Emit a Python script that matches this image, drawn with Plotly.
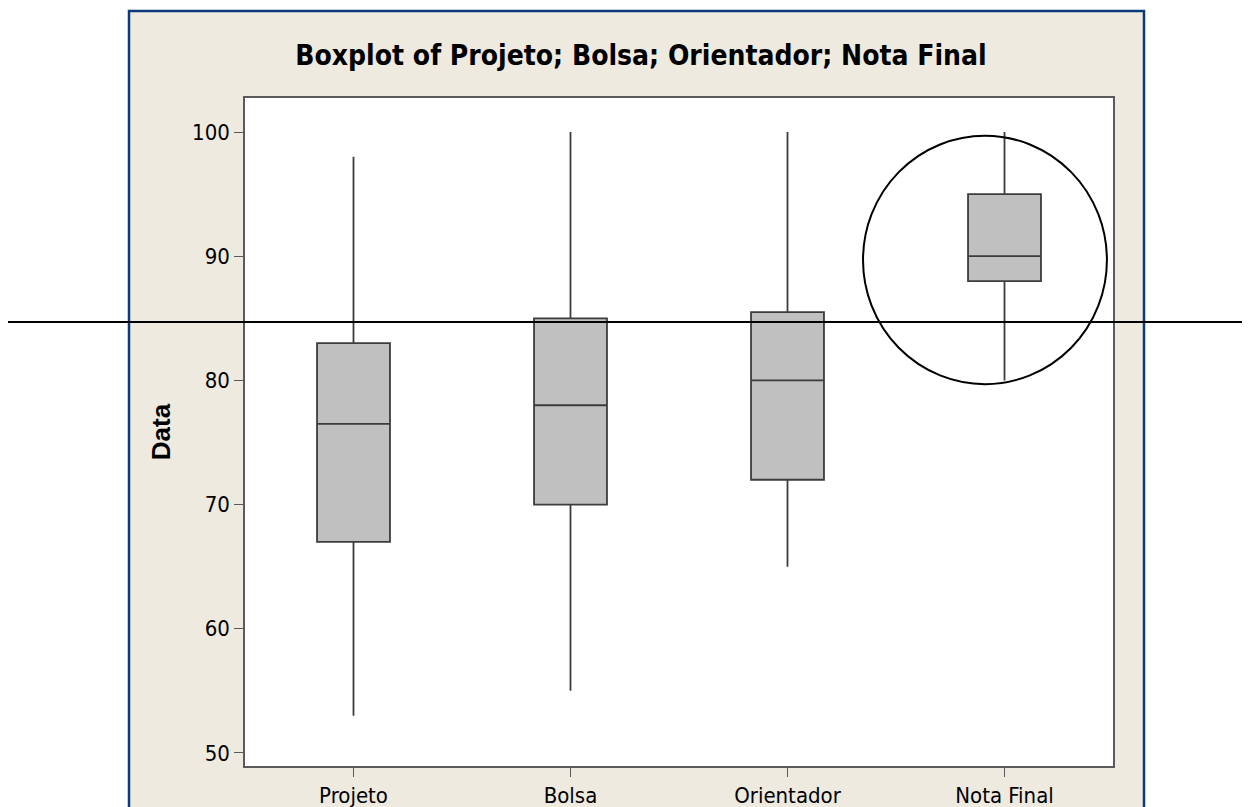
import plotly.graph_objects as go

# Boxplot summary values
categories = ["Projeto", "Bolsa", "Orientador", "Nota Final"]
lower_whisker = [53, 55, 65, 80]
q1 = [67, 70, 72, 88]
median = [76.5, 78, 80, 90]
q3 = [83, 85, 85.5, 95]
upper_whisker = [98, 100, 100, 100]

ref_line = 84.7            # horizontal reference line across the picture
circle_x = [2.348, 3.472]  # circle drawn around "Nota Final"
circle_y = [79.7, 99.7]

# the page body has an 8px margin, so the figure is shifted by that much
OFF = 8
W, H = 1250 - OFF, 807 - OFF
L, R, T, B = 245 - OFF, 1113 - OFF, 98 - OFF, 766 - OFF   # plot area in px


def px_x(px):
    return (px - OFF - L) / (R - L)


def px_y(py):
    return (B - (py - OFF)) / (B - T)


NARROW = "Liberation Sans Narrow, DejaVu Sans Condensed, Arial Narrow, Arial, sans-serif"

fig = go.Figure()
fig.add_trace(go.Box(x=categories,
                     q1=q1, median=median, q3=q3,
                     lowerfence=lower_whisker, upperfence=upper_whisker,
                     fillcolor="#c0c0c0",
                     line=dict(color="#3c3c3c", width=1.8),
                     whiskerwidth=0,
                     width=0.336,
                     boxpoints=False,
                     showlegend=False))

shapes = [
    # beige panel with blue frame
    dict(type="rect", xref="paper", yref="paper", layer="below",
         x0=px_x(129), x1=px_x(1144), y0=px_y(830), y1=px_y(11),
         fillcolor="#eeeae0", line=dict(color="#0b3a78", width=2.5)),
    # white plot area
    dict(type="rect", xref="x domain", yref="y domain", layer="below",
         x0=0, x1=1, y0=0, y1=1, fillcolor="white", line=dict(width=0)),
    # horizontal line
    dict(type="line", xref="paper", yref="y",
         x0=px_x(8), x1=px_x(1260), y0=ref_line, y1=ref_line,
         line=dict(color="black", width=2)),
    # circle
    dict(type="circle", xref="x", yref="y",
         x0=circle_x[0], x1=circle_x[1], y0=circle_y[0], y1=circle_y[1],
         line=dict(color="black", width=2)),
]

fig.update_layout(
    width=W, height=H,
    margin=dict(l=L, r=W - R, t=T, b=H - B, autoexpand=False),
    paper_bgcolor="white",
    plot_bgcolor="white",
    shapes=shapes,
    title=dict(text="<b>Boxplot of Projeto; Bolsa; Orientador; Nota Final</b>",
               font=dict(family=NARROW, size=28, color="black"),
               x=(641 - OFF) / W, xanchor="center", xref="container",
               y=1 - (55 - OFF) / H, yanchor="middle", yref="container"),
)

fig.update_xaxes(range=[-0.5, 3.5], showgrid=False, zeroline=False,
                 automargin=False,
                 showline=True, mirror=True, linecolor="#5a5a5a", linewidth=1.5,
                 ticks="outside", ticklen=9, tickcolor="#5a5a5a",
                 tickfont=dict(family=NARROW, size=22, color="black"))
fig.update_yaxes(range=[48.95, 102.74], showgrid=False, zeroline=False,
                 automargin=False,
                 tickvals=[50, 60, 70, 80, 90, 100],
                 showline=True, mirror=True, linecolor="#5a5a5a", linewidth=1.5,
                 ticks="outside", ticklen=9, tickcolor="#5a5a5a",
                 tickfont=dict(family=NARROW, size=22, color="black"),
                 title=dict(text="<b>Data</b>", standoff=14,
                            font=dict(family="Liberation Sans, Arial", size=26,
                                      color="black")))

fig.write_html("out.html")
